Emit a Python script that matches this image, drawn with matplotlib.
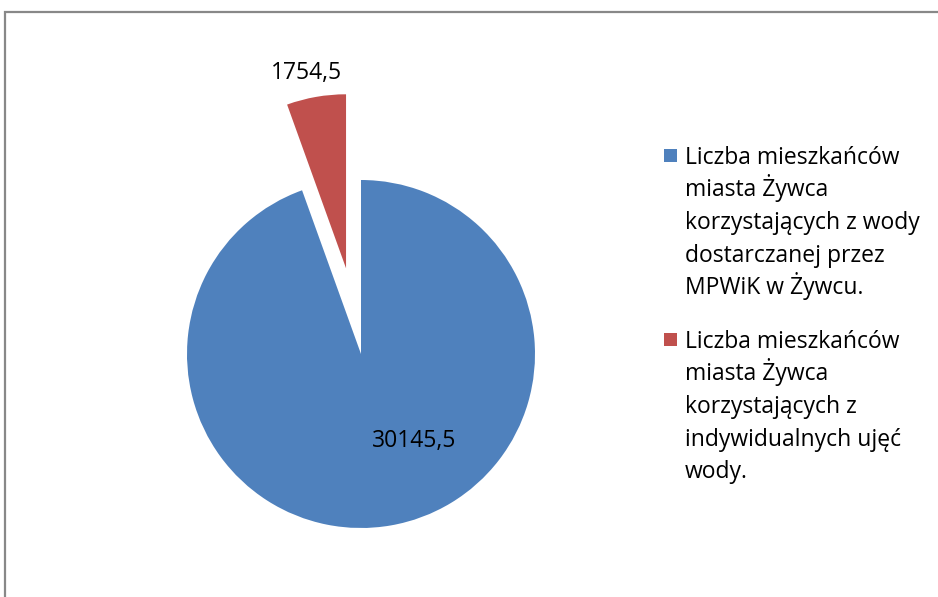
import matplotlib.pyplot as plt
from matplotlib.patches import Rectangle

# data
values = [30145.5, 1754.5]
value_labels = ["30145,5", "1754,5"]
legend_labels = [
    ["Liczba mieszkańców", "miasta Żywca", "korzystających z wody",
     "dostarczanej przez", "MPWiK w Żywcu."],
    ["Liczba mieszkańców", "miasta Żywca", "korzystających z",
     "indywidualnych ujęć", "wody."],
]
colors = ["#4F81BD", "#C0504D"]

W, H = 938, 597
fig = plt.figure(figsize=(W / 100, H / 100), dpi=100)
ax = fig.add_axes([0, 0, 1, 1])

# pie centre and radius in pixels
cx, cy, R = 361, H - 354, 174

wedges, _ = ax.pie(values, colors=colors, startangle=90, counterclock=False,
                   explode=[0, 0.5], radius=1, center=(0, 0),
                   wedgeprops=dict(linewidth=0))
ax.set_xlim(-cx / R, (W - cx) / R)
ax.set_ylim(-cy / R, (H - cy) / R)
ax.set_aspect('auto')
ax.axis('off')

font = ['Open Sans', 'DejaVu Sans']
fs = 16.5
ax.text(0.305, -0.5, value_labels[0], fontsize=fs, family=font, ha='center', va='center')
ax.text(-0.315, 1.615, value_labels[1], fontsize=fs, family=font, ha='center', va='center')

# legend drawn by hand so the square sits at the first line
first_baselines = [164, 348]
for lines, col, y in zip(legend_labels, colors, first_baselines):
    for i, line in enumerate(lines):
        fig.text(685 / W, 1 - (y + i * 32.5) / H, line, fontsize=fs, family=font,
                 ha='left', va='baseline')
    fig.add_artist(Rectangle((664 / W, 1 - (y - 2) / H), 13 / W, 13 / H,
                             transform=fig.transFigure, facecolor=col, edgecolor='none'))

# chart border
fig.add_artist(Rectangle((5 / W, -0.1), 1.2, 1.1 - 12 / H,
                         transform=fig.transFigure, fill=False,
                         edgecolor='#888888', linewidth=1.6))

fig.savefig("out.png", dpi=100)
